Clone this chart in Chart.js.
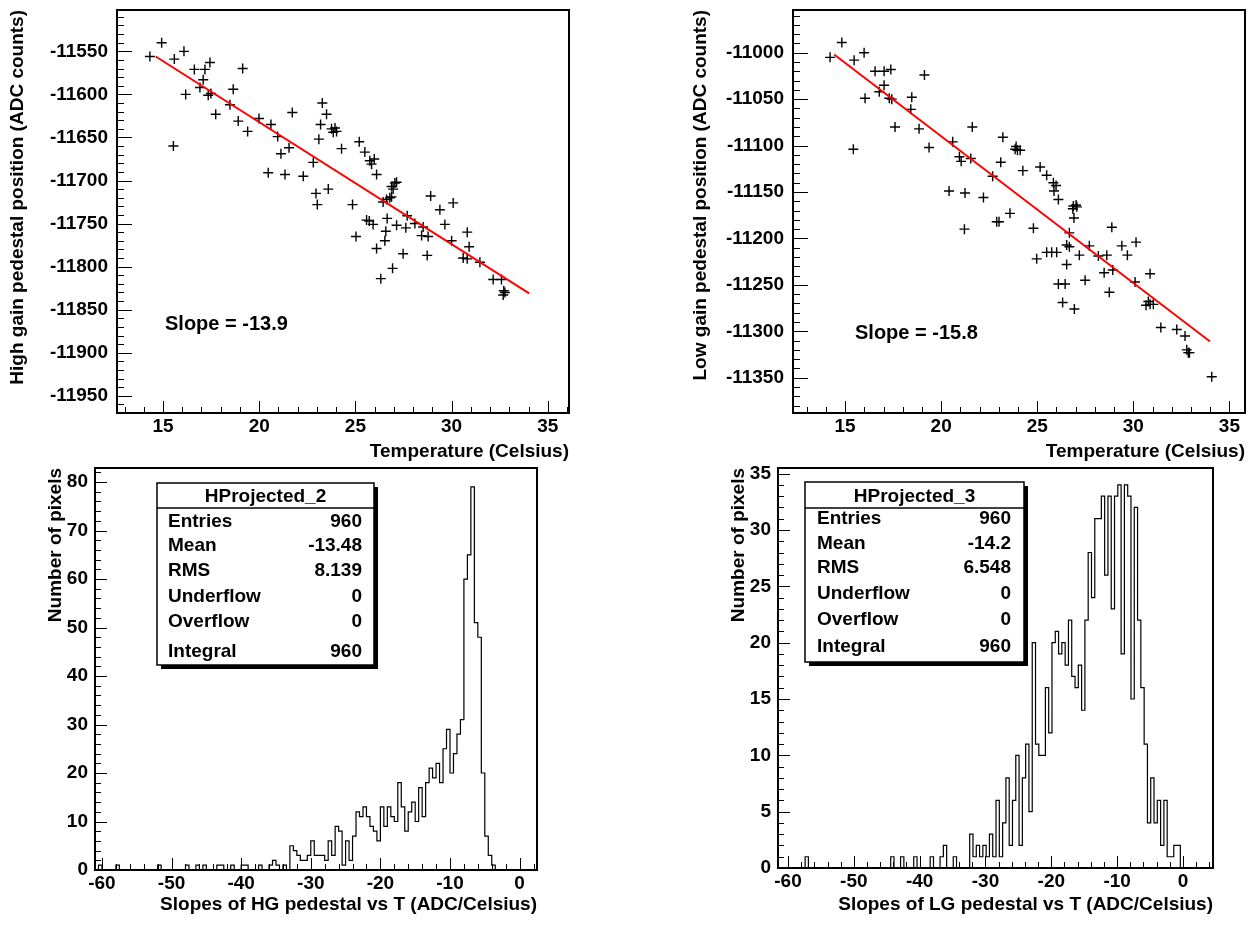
<!DOCTYPE html>
<html>
<head>
<meta charset="utf-8">
<title>Pedestal vs temperature</title>
<script src="https://cdn.jsdelivr.net/npm/chart.js@4.4.0/dist/chart.umd.min.js"></script>
<style>
  html, body { margin: 0; padding: 0; background: #fff; }
  #page { position: relative; width: 1255px; height: 925px; overflow: hidden; background: #fff; }
  #page canvas { position: absolute; }
</style>
</head>
<body>
<div id="page">
  <canvas id="hgScatter" width="627" height="465" style="left:0;top:0;width:627px;height:465px"></canvas>
  <canvas id="lgScatter" width="628" height="465" style="left:627px;top:0;width:628px;height:465px"></canvas>
  <canvas id="hgHist" width="627" height="465" style="left:0;top:460px;width:627px;height:465px"></canvas>
  <canvas id="lgHist" width="628" height="465" style="left:627px;top:460px;width:628px;height:465px"></canvas>
</div>
<script>
// ====== Data: high gain pedestal vs temperature ======
const hgTemp = [14.32,14.93,15.59,16.09,16.63,17.18,17.44,17.09,16.92,16.18,17.35,17.49,19.14,18.65,18.48,17.74,18.91,19.40,15.54,19.99,20.61,20.96,21.72,21.55,21.13,20.47,21.34,22.29,22.81,23.28,23.50,23.19,23.10,23.76,23.94,23.85,24.02,24.28,23.59,22.95,23.02,25.20,25.49,25.75,25.98,25.84,26.10,27.05,27.14,26.88,26.96,26.62,26.79,26.88,26.44,24.85,25.58,25.72,25.92,26.65,26.58,27.14,27.62,27.69,28.09,28.52,28.44,28.78,25.03,26.10,26.53,27.48,28.73,26.93,26.32,28.91,29.39,30.08,29.65,30.00,30.81,30.91,30.60,30.81,31.47,32.16,32.59,32.71,32.77,32.68];
const hgPed = [-11556,-11540,-11559,-11550,-11571,-11571,-11563,-11583,-11592,-11600,-11601,-11599,-11570,-11594,-11612,-11623,-11631,-11643,-11660,-11628,-11635,-11649,-11621,-11662,-11669,-11691,-11693,-11695,-11679,-11610,-11623,-11635,-11652,-11640,-11639,-11644,-11643,-11663,-11710,-11715,-11728,-11655,-11667,-11677,-11675,-11681,-11693,-11703,-11702,-11707,-11710,-11722,-11720,-11719,-11725,-11728,-11746,-11747,-11751,-11744,-11759,-11752,-11755,-11741,-11750,-11754,-11764,-11765,-11765,-11779,-11770,-11785,-11787,-11802,-11814,-11718,-11734,-11726,-11751,-11770,-11760,-11777,-11790,-11791,-11795,-11815,-11815,-11828,-11830,-11833];
const hgFitTemp = [14.62, 34.03];
const hgFitPed = [-11556, -11831];
const hgSlopeText = "Slope = -13.9";

// ====== Data: low gain pedestal vs temperature ======
const lgTemp = [14.22,14.83,15.47,15.99,16.56,17.03,17.38,17.03,16.78,17.30,17.43,16.04,19.13,18.47,18.42,17.60,18.85,19.37,15.43,20.60,20.95,21.04,21.54,21.62,20.41,21.24,23.21,23.90,23.85,23.97,24.11,23.10,24.25,22.68,25.15,25.49,25.84,25.98,25.87,26.10,26.88,27.02,26.85,27.06,26.91,22.20,23.58,22.89,23.01,21.21,24.80,26.67,26.53,26.67,27.71,28.88,29.40,30.14,29.69,25.49,25.75,26.01,24.97,26.53,27.19,28.18,28.62,28.48,28.93,27.49,26.10,26.45,28.75,30.87,30.09,30.78,30.87,30.66,31.04,26.32,26.93,31.43,32.26,32.69,32.78,32.92,32.86,34.08];
const lgPed = [-11005,-10989,-11008,-11000,-11020,-11020,-11018,-11035,-11042,-11049,-11050,-11049,-11024,-11048,-11061,-11080,-11082,-11102,-11104,-11096,-11112,-11117,-11114,-11080,-11149,-11151,-11091,-11101,-11104,-11105,-11105,-11118,-11127,-11133,-11123,-11132,-11140,-11143,-11149,-11158,-11165,-11164,-11168,-11166,-11178,-11156,-11173,-11182,-11182,-11190,-11189,-11194,-11207,-11209,-11208,-11188,-11208,-11204,-11218,-11215,-11215,-11215,-11222,-11228,-11218,-11219,-11218,-11237,-11234,-11245,-11249,-11249,-11258,-11238,-11247,-11268,-11271,-11272,-11271,-11269,-11276,-11296,-11298,-11305,-11320,-11323,-11323,-11349];
const lgFitTemp = [14.43, 33.99];
const lgFitPed = [-11002, -11311];
const lgSlopeText = "Slope = -15.8";

// ====== Data: slope histograms (bin counts, 0.5 wide bins) ======
const hgBinStart = -61;
const hgBinWidth = 0.5;
const hgCounts = [
  0,1,0,0,0,0,1,0,0,0,
  0,0,0,0,0,0,0,0,1,0,
  0,0,0,0,0,0,1,0,0,1,
  0,1,0,0,0,1,1,0,0,1,
  0,0,1,1,0,0,0,1,0,0,
  1,2,1,0,1,0,5,4,3,2,
  2,3,6,3,3,3,2,6,3,9,
  8,1,6,2,7,12,11,13,11,9,
  8,6,13,9,13,11,10,18,13,8,
  12,14,10,17,11,18,21,19,22,18,
  25,29,20,24,28,31,60,65,79,51,
  48,20,7,3,1,0,0,0,0,0,
  0,0,0,0,0,0,0
];
const lgBinStart = -61.9;
const lgBinWidth = 0.5;
const lgCounts = [
  0,0,0,0,0,0,0,0,0,1,
  0,0,0,0,0,0,0,0,0,0,
  0,0,0,0,0,0,0,0,0,0,
  0,0,0,0,0,1,0,0,1,0,
  0,0,1,0,0,0,0,1,0,0,
  1,2,0,0,1,0,0,0,0,3,
  1,2,1,2,1,3,1,6,1,4,
  8,2,6,10,2,8,11,5,20,11,
  10,10,16,12,20,21,19,20,18,22,
  17,16,18,14,22,28,24,31,31,33,
  26,33,23,33,34,19,34,33,15,32,
  22,16,11,4,8,4,6,2,6,1,
  1,2,2,0,0,0,0,0,0,0,
  0,0
];

// ====== Data: statistics boxes ======
const statLabels = ["Entries", "Mean", "RMS", "Underflow", "Overflow", "Integral"];
const hgStatValues = ["960", "-13.48", "8.139", "0", "0", "960"];
const lgStatValues = ["960", "-14.2", "6.548", "0", "0", "960"];

const FONT = '"Liberation Sans", Arial, Helvetica, sans-serif';
Chart.defaults.font.family = FONT;
Chart.defaults.font.weight = "bold";
Chart.defaults.font.size = 19;
Chart.defaults.color = "#000";

// ====== ROOT-like frame with inward ticks ======
const rootFrame = {
  id: "rootFrame",
  afterDatasetsDraw(chart, args, o) {
    const { ctx, chartArea: a } = chart;
    const xs = chart.scales.x;
    const ys = chart.scales.y;
    ctx.save();
    ctx.strokeStyle = "#000";
    ctx.lineWidth = 1;
    ctx.beginPath();
    for (let i = Math.ceil(xs.min / o.xMinor); i * o.xMinor <= xs.max; i++) {
      const v = i * o.xMinor;
      const major = Math.abs(v / o.xMajor - Math.round(v / o.xMajor)) < 1e-6;
      const px = Math.round(xs.getPixelForValue(v)) + 0.5;
      ctx.moveTo(px, a.bottom);
      ctx.lineTo(px, a.bottom - (major ? o.xMajLen : o.xMinLen));
    }
    for (let i = Math.ceil(ys.min / o.yMinor); i * o.yMinor <= ys.max; i++) {
      const v = i * o.yMinor;
      const major = Math.abs(v / o.yMajor - Math.round(v / o.yMajor)) < 1e-6;
      const py = Math.round(ys.getPixelForValue(v)) + 0.5;
      ctx.moveTo(a.left, py);
      ctx.lineTo(a.left + (major ? o.yMajLen : o.yMinLen), py);
    }
    ctx.stroke();
    ctx.lineWidth = 2;
    ctx.strokeRect(a.left, a.top, a.right - a.left, a.bottom - a.top);
    ctx.restore();
  }
};

// ====== Slope label and stats box ======
const notes = {
  id: "notes",
  afterDraw(chart, args, o) {
    const { ctx } = chart;
    ctx.save();
    ctx.fillStyle = "#000";
    ctx.textBaseline = "middle";
    if (o.slope) {
      ctx.font = "bold 20px " + FONT;
      ctx.textAlign = "left";
      ctx.fillText(o.slope.text, o.slope.x, o.slope.y);
    }
    if (o.stats) {
      const s = o.stats;
      const [l, t, r, b] = s.box;
      ctx.fillRect(l + 4, t + 4, r - l, b - t);
      ctx.fillStyle = "#fff";
      ctx.fillRect(l, t, r - l, b - t);
      ctx.strokeStyle = "#000";
      ctx.lineWidth = 1.5;
      ctx.strokeRect(l, t, r - l, b - t);
      ctx.beginPath();
      ctx.moveTo(l, s.sepY);
      ctx.lineTo(r, s.sepY);
      ctx.stroke();
      ctx.fillStyle = "#000";
      ctx.font = "bold 19px " + FONT;
      ctx.textAlign = "center";
      ctx.fillText(s.title, (l + r) / 2, s.titleY);
      s.labels.forEach((lab, i) => {
        ctx.textAlign = "left";
        ctx.fillText(lab, s.labelX, s.rowY[i]);
        ctx.textAlign = "right";
        ctx.fillText(s.values[i], s.valueX, s.rowY[i]);
      });
    }
    ctx.restore();
  }
};

function axis(min, max, step, titleText, titleOpts, tickPad, size, isX) {
  return {
    type: "linear",
    min: min,
    max: max,
    grid: { display: false, drawTicks: false },
    border: { display: false },
    ticks: {
      stepSize: step,
      includeBounds: false,
      autoSkip: false,
      maxRotation: 0,
      padding: tickPad,
      color: "#000",
      callback: v => String(v)
    },
    title: Object.assign({ display: true, text: titleText, align: "end", color: "#000",
      font: { size: 19, weight: "bold" } }, titleOpts),
    afterFit: s => {
      if (isX) s.height = size; else s.width = size;
      // keep the frame exactly where the layout padding puts it
      s.paddingTop = 0; s.paddingBottom = 0; s.paddingLeft = 0; s.paddingRight = 0;
    }
  };
}

function histPoints(start, width, counts) {
  const pts = [{ x: start, y: 0 }];
  counts.forEach((c, i) => pts.push({ x: start + i * width, y: c }));
  pts.push({ x: start + counts.length * width, y: 0 });
  return pts;
}

const baseOpts = {
  responsive: false,
  animation: false,
  events: [],
  plugins: { legend: { display: false }, tooltip: { enabled: false } }
};

// ====== Scatter panels ======
function scatterChart(id, temp, ped, fitT, fitP, xr, yr, yTitle, layout, slope) {
  return new Chart(document.getElementById(id), {
    type: "scatter",
    data: {
      datasets: [
        {
          data: fitT.map((t, i) => ({ x: t, y: fitP[i] })),
          showLine: true,
          borderColor: "#ff0000",
          borderWidth: 2,
          pointRadius: 0
        },
        {
          data: temp.map((t, i) => ({ x: t, y: ped[i] })),
          pointStyle: "cross",
          pointRadius: 5,
          borderColor: "#000",
          borderWidth: 1.4
        }
      ]
    },
    options: Object.assign({}, baseOpts, {
      layout: { padding: layout.padding },
      scales: {
        x: axis(xr[0], xr[1], 5, "Temperature (Celsius)", { padding: { top: 0, bottom: 2 } }, 2, layout.xh, true),
        y: axis(yr[0], yr[1], 50, yTitle, { padding: { top: layout.yTitlePad, bottom: 0 } }, 9, layout.yw, false)
      },
      plugins: Object.assign({}, baseOpts.plugins, {
        rootFrame: { xMinor: 1, xMajor: 5, yMinor: 10, yMajor: 50, xMajLen: 12, xMinLen: 6, yMajLen: 15, yMinLen: 7 },
        notes: { slope: slope }
      })
    }),
    plugins: [rootFrame, notes]
  });
}

scatterChart("hgScatter", hgTemp, hgPed, hgFitTemp, hgFitPed, [12.61, 36.1], [-11970, -11502],
  "High gain pedestal position (ADC counts)",
  { padding: { top: 10, right: 58, left: 0, bottom: 0 }, xh: 52, yw: 117, yTitlePad: 6 },
  { text: hgSlopeText, x: 165, y: 324 });

scatterChart("lgScatter", lgTemp, lgPed, lgFitTemp, lgFitPed, [12.29, 35.81], [-11388, -10954],
  "Low gain pedestal position (ADC counts)",
  { padding: { top: 10, right: 10, left: 0, bottom: 0 }, xh: 52, yw: 166, yTitlePad: 62 },
  { text: lgSlopeText, x: 228, y: 333 });

// ====== Histogram panels ======
function histChart(id, start, width, counts, xr, yr, yStep, xTitle, layout, stats) {
  return new Chart(document.getElementById(id), {
    type: "scatter",
    data: {
      datasets: [{
        data: histPoints(start, width, counts),
        showLine: true,
        stepped: "before",
        borderColor: "#000",
        borderWidth: 1.2,
        pointRadius: 0
      }]
    },
    options: Object.assign({}, baseOpts, {
      layout: { padding: layout.padding },
      scales: {
        x: axis(xr[0], xr[1], 10, xTitle, { padding: { top: 0, bottom: 9 } }, 2, layout.xh, true),
        y: axis(yr[0], yr[1], yStep, "Number of pixels", { padding: { top: layout.yTitlePad, bottom: 0 } }, 7, layout.yw, false)
      },
      plugins: Object.assign({}, baseOpts.plugins, {
        rootFrame: { xMinor: 2, xMajor: 10, yMinor: yStep / 5, yMajor: yStep, xMajLen: 12, xMinLen: 6, yMajLen: 12, yMinLen: 6 },
        notes: { stats: stats }
      })
    }),
    plugins: [rootFrame, notes]
  });
}

histChart("hgHist", hgBinStart, hgBinWidth, hgCounts, [-61, 2.5], [0, 82.9], 10,
  "Slopes of HG pedestal vs T (ADC/Celsius)",
  { padding: { top: 8, right: 90, left: 0, bottom: 0 }, xh: 55, yw: 95, yTitlePad: 44 },
  { title: "HProjected_2", box: [157, 23, 374, 205], sepY: 48, titleY: 37,
    labels: statLabels, values: hgStatValues, labelX: 168, valueX: 362,
    rowY: [62, 86, 111, 137, 162, 192] });

histChart("lgHist", lgBinStart, lgBinWidth, lgCounts, [-61.52, 4.56], [0, 35.5], 5,
  "Slopes of LG pedestal vs T (ADC/Celsius)",
  { padding: { top: 8, right: 42, left: 0, bottom: 0 }, xh: 57, yw: 151, yTitlePad: 100 },
  { title: "HProjected_3", box: [178, 22, 397, 202], sepY: 48, titleY: 37,
    labels: statLabels, values: lgStatValues, labelX: 190, valueX: 384,
    rowY: [59, 84, 108, 134, 160, 187] });
</script>
</body>
</html>
